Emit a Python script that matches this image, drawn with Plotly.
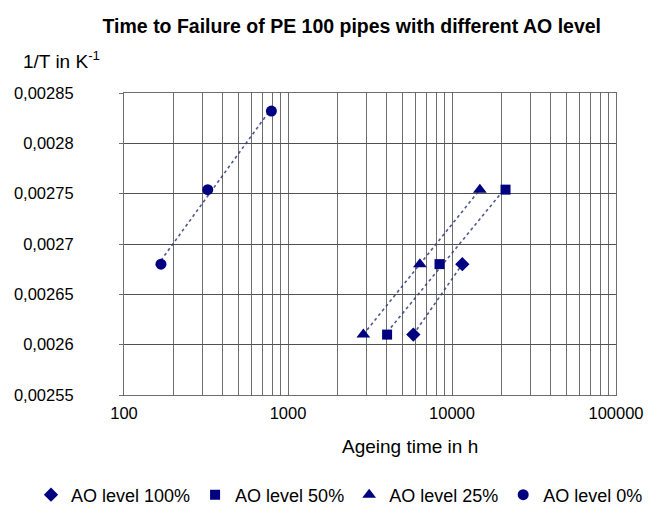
import numpy as np
import plotly.graph_objects as go

# ---- data ----
series_names = ["AO level 100%", "AO level 50%", "AO level 25%", "AO level 0%"]
symbols = ["diamond", "square", "triangle-up", "circle"]

t_ao100 = [5810, 11560]
y_ao100 = [0.00261, 0.00268]

t_ao50 = [4020, 8390, 21200]
y_ao50 = [0.00261, 0.00268, 0.002754]

t_ao25 = [2880, 6370, 14790]
y_ao25 = [0.00261, 0.00268, 0.002754]

t_ao0 = [168, 324, 792]
y_ao0 = [0.00268, 0.002754, 0.002832]

y_tickvals = [0.00255, 0.0026, 0.00265, 0.0027, 0.00275, 0.0028, 0.00285]
y_ticktext = ["0,00255", "0,0026", "0,00265", "0,0027", "0,00275", "0,0028", "0,00285"]
x_tickvals = [100, 1000, 10000, 100000]
x_ticktext = ["100", "1000", "10000", "100000"]

NAVY = "#000080"
VGRID = "#6e6e6e"
HGRID = "#505050"
FONT = "Liberation Sans, Arial, sans-serif"

fig = go.Figure()

data = [(t_ao100, y_ao100), (t_ao50, y_ao50), (t_ao25, y_ao25), (t_ao0, y_ao0)]
marker_sizes = [11, 10, 12, 11]

# logarithmic trendlines (y = a*ln(x) + b), drawn over the data range
for (tx, ty) in data:
    lx = np.log(np.array(tx, dtype=float))
    a, b = np.polyfit(lx, np.array(ty), 1)
    xs = np.array([min(tx), max(tx)], dtype=float)
    fig.add_trace(go.Scatter(
        x=xs, y=a * np.log(xs) + b, mode="lines",
        line=dict(color="rgba(50,60,120,0.85)", width=1.6, dash="dot"),
        showlegend=False, hoverinfo="skip"))

for name, sym, (tx, ty), ms in zip(series_names, symbols, data, marker_sizes):
    fig.add_trace(go.Scatter(
        x=tx, y=ty, mode="markers", name=name,
        marker=dict(symbol=sym, size=ms, color=NAVY, line=dict(width=0))))

fig.update_layout(
    width=660, height=515,
    margin=dict(l=124, r=44, t=93, b=120, autoexpand=False),
    paper_bgcolor="white", plot_bgcolor="white",
    font=dict(family=FONT, size=16.5, color="black"),
    title=dict(text="<b>Time to Failure of PE 100 pipes with different AO level</b>",
               font=dict(family=FONT, size=19.5, color="black"),
               x=0.533, xanchor="center", xref="container",
               y=1 - 26 / 515, yanchor="middle", yref="container"),
    showlegend=True,
    legend=dict(orientation="h", xref="paper", yref="paper",
                x=(31 - 124) / 492, xanchor="left",
                y=-(495 - 395) / 302, yanchor="middle",
                font=dict(family=FONT, size=18, color="black"),
                itemwidth=30, bgcolor="rgba(0,0,0,0)"),
)

fig.update_xaxes(
    type="log", range=[2, 5],
    tickmode="array", tickvals=x_tickvals, ticktext=x_ticktext,
    showgrid=True, gridcolor=VGRID, gridwidth=1.2,
    minor=dict(dtick="D1", showgrid=True, gridcolor=VGRID, gridwidth=1.2, ticks=""),
    showline=True, linecolor=VGRID, linewidth=1.2, mirror=True,
    ticks="", ticklabelstandoff=3,
    tickfont=dict(family=FONT, size=16.5, color="black"),
    zeroline=False,
)
fig.update_yaxes(
    range=[0.00255, 0.00285],
    tickmode="array", tickvals=y_tickvals, ticktext=y_ticktext,
    showgrid=True, gridcolor=HGRID, gridwidth=1.2,
    showline=True, linecolor=VGRID, linewidth=1.2, mirror=True,
    ticks="outside", ticklen=4, tickcolor=VGRID,
    ticklabelstandoff=42,
    tickfont=dict(family=FONT, size=16.5, color="black"),
    zeroline=False,
)

fig.add_annotation(text="1/T in K<sup>-1</sup>", xref="paper", yref="paper",
                   x=(61 - 124) / 492, y=1 + (93 - 60) / 302, showarrow=False,
                   xanchor="center", yanchor="middle",
                   font=dict(family=FONT, size=19, color="black"))
fig.add_annotation(text="Ageing time in h", xref="paper", yref="paper",
                   x=(410 - 124) / 492, y=-(446 - 395) / 302, showarrow=False,
                   xanchor="center", yanchor="middle",
                   font=dict(family=FONT, size=19, color="black"))

fig.write_html("out.html")
